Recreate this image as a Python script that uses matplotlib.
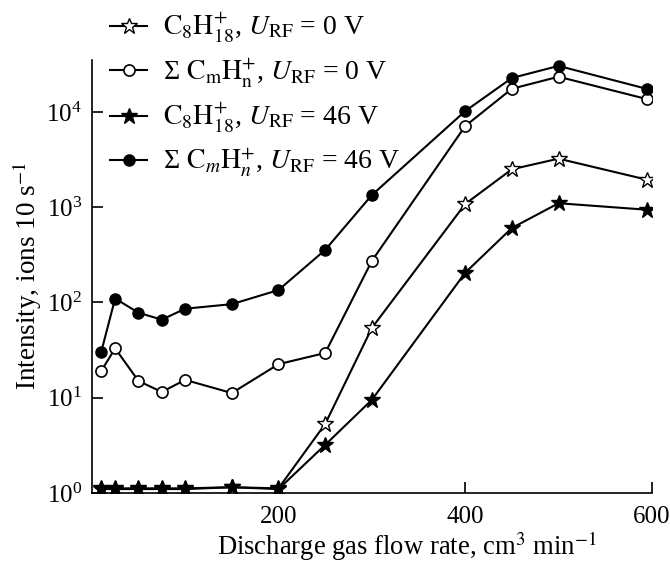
import matplotlib
matplotlib.use('Agg')
import matplotlib.pyplot as plt
from matplotlib.ticker import FixedLocator, NullLocator, LogLocator

plt.rcParams['font.family'] = 'Liberation Serif'
plt.rcParams['mathtext.fontset'] = 'stix'
plt.rcParams['font.size'] = 18

# Discharge gas flow rate, cm^3/min
flow = [10, 25, 50, 75, 100, 150, 200, 250, 300, 400, 450, 500, 595]

# C8H18+ intensity, U_RF = 0 V
c8_0v = [1.12, 1.12, 1.12, 1.12, 1.12, 1.15, 1.12, 5.3, 54, 1080, 2500, 3230, 1940]
# sum CmHn+ intensity, U_RF = 0 V
sum_0v = [19, 33, 15, 11.5, 15.4, 11.2, 22.5, 29.5, 273, 7100, 17500, 23400, 13600]
# C8H18+ intensity, U_RF = 46 V
c8_46v = [1.1, 1.1, 1.1, 1.1, 1.1, 1.15, 1.1, 3.2, 9.5, 205, 605, 1100, 940]
# sum CmHn+ intensity, U_RF = 46 V
sum_46v = [30, 110, 78, 66, 86, 96, 135, 356, 1340, 10200, 22700, 30400, 17400]

fig = plt.figure(figsize=(6.7, 5.63), dpi=100)
ax = fig.add_axes([0.137, 0.1243, 0.836, 0.769])

lw = 1.5
ax.plot(flow, c8_0v, '-', color='black', lw=lw, marker='*', ms=12,
        mfc='white', mec='black', mew=1.0, zorder=3,
        label=r'$\mathrm{C_8H_{18}^{+}}$, $U_{\mathrm{RF}}$ = 0 V')
ax.plot(flow, sum_0v, '-', color='black', lw=lw, marker='o', ms=8,
        mfc='white', mec='black', mew=1.2, zorder=3,
        label=r'Σ $\mathrm{C_mH_n^{+}}$, $U_{\mathrm{RF}}$ = 0 V')
ax.plot(flow, c8_46v, '-', color='black', lw=lw, marker='*', ms=12,
        mfc='black', mec='black', zorder=4,
        label=r'$\mathrm{C_8H_{18}^{+}}$, $U_{\mathrm{RF}}$ = 46 V')
ax.plot(flow, sum_46v, '-', color='black', lw=lw, marker='o', ms=8,
        mfc='black', mec='black', zorder=4,
        label=r'Σ $\mathrm{C}_m\mathrm{H}_n^{+}$, $U_{\mathrm{RF}}$ = 46 V')

ax.set_yscale('log')
ax.set_xlim(0, 600)
ax.set_ylim(1, 3.5e4)
ax.yaxis.set_major_locator(LogLocator(base=10, numticks=10))
ax.yaxis.set_minor_locator(NullLocator())
ax.set_xticks([200, 400, 600])
ax.xaxis.set_minor_locator(FixedLocator([100]))

ax.spines['top'].set_visible(False)
ax.spines['right'].set_visible(False)
for s in ['left', 'bottom']:
    ax.spines[s].set_linewidth(1.2)
ax.tick_params(which='both', direction='in', length=8, width=1.2, pad=7)
ax.tick_params(axis='x', pad=9)

ax.set_xlabel(r'Discharge gas flow rate, cm$^3$ min$^{-1}$', fontsize=19.2)
ax.xaxis.set_label_coords(0.5625, -0.084)
ax.set_ylabel(r'Intensity, ions 10 s$^{-1}$', fontsize=19.5, labelpad=2)

fig.legend(loc='upper left', bbox_to_anchor=(0.1475, 1.0), frameon=False,
           fontsize=20, handlelength=1.35, handletextpad=0.55,
           labelspacing=0.4, borderaxespad=0.0)

fig.savefig('out.png', dpi=100)
